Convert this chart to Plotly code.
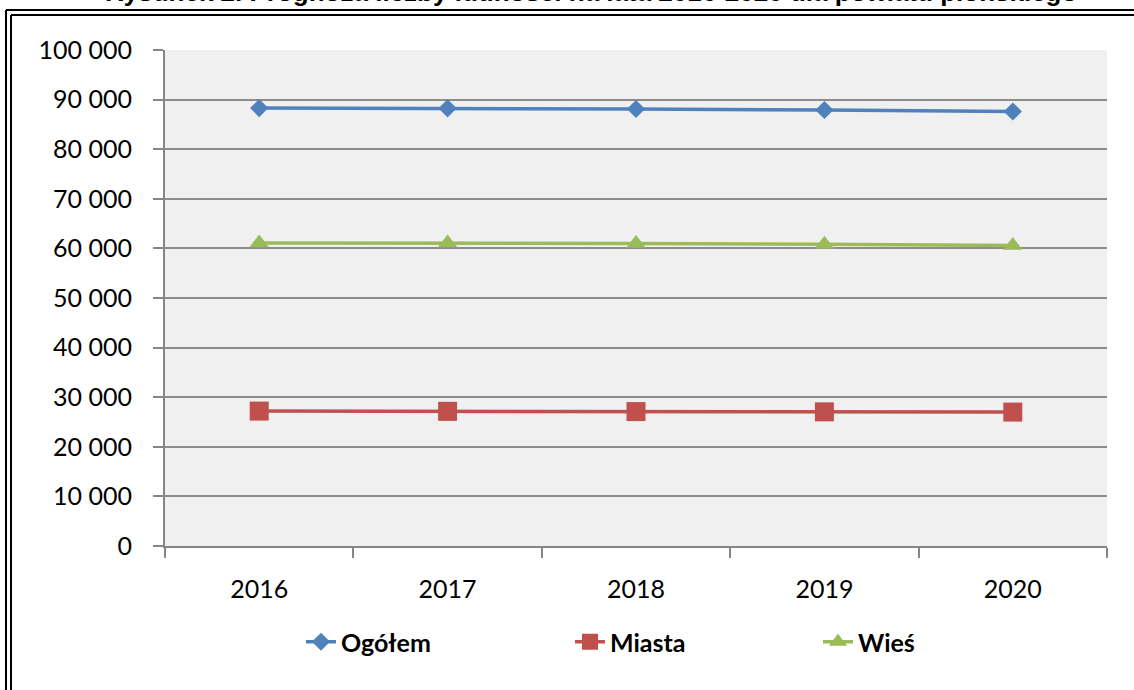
import plotly.graph_objects as go

years = ["2016", "2017", "2018", "2019", "2020"]
ogolem = [88300, 88250, 88100, 87900, 87600]
miasta = [27200, 27150, 27100, 27050, 27000]
wies = [61100, 61100, 61000, 60850, 60600]

series_names = ["Ogółem", "Miasta", "Wieś"]
colors = ["#4F81BD", "#C0504D", "#9BBB59"]
symbols = ["diamond", "square", "triangle-up"]
sizes = [14, 19, 17]

W, H = 1134, 690
ML, MR, MT, MB = 165, 27, 50, 144
PW, PH = W - ML - MR, H - MT - MB


def px_x(px):
    return (px - ML) / PW


def px_y(py):
    return (H - MB - py) / PH


fig = go.Figure()
legend_ids = ["legend", "legend2", "legend3"]
for vals, name, col, sym, sz, lg in zip([ogolem, miasta, wies], series_names, colors, symbols, sizes, legend_ids):
    fig.add_trace(go.Scatter(
        x=years, y=vals, name="<b>" + name + "</b>", mode="lines+markers",
        line=dict(color=col, width=3.5),
        marker=dict(symbol=sym, size=sz, color=col),
        legend=lg, showlegend=True,
    ))

font_family = "Lato, 'Open Sans', sans-serif"
legend_common = dict(orientation="h", yanchor="middle", xanchor="left",
                     font=dict(family=font_family, size=25, color="#000000"),
                     bgcolor="rgba(0,0,0,0)", borderwidth=0, visible=True)

leg_text_starts = [342, 610, 858]
fig.update_layout(
    width=W, height=H,
    margin=dict(l=ML, r=MR, t=MT, b=MB),
    paper_bgcolor="white",
    plot_bgcolor="#F0F0F0",
    separators=", ",
    showlegend=True,
    font=dict(family=font_family, size=25, color="#000000"),
    legend=dict(x=px_x(leg_text_starts[0] - 41), y=px_y(642), **legend_common),
    legend2=dict(x=px_x(leg_text_starts[1] - 40), y=px_y(642), **legend_common),
    legend3=dict(x=px_x(leg_text_starts[2] - 40), y=px_y(642), **legend_common),
    xaxis=dict(
        type="category", range=[-0.5, 4.5], showgrid=False, showline=True, linecolor="#868686", linewidth=2,
        ticks="outside", ticklen=10, tickcolor="#868686", tickwidth=2, tickson="boundaries",
        ticklabelstandoff=20,
        tickfont=dict(family=font_family, size=25, color="#000000"),
    ),
    yaxis=dict(
        range=[0, 100000], dtick=10000, tick0=0, tickformat=",",
        showgrid=True, gridcolor="#8C8C8C", gridwidth=2, zeroline=False,
        showline=True, linecolor="#868686", linewidth=2,
        ticks="outside", ticklen=10, tickcolor="#868686", tickwidth=2,
        ticklabelstandoff=16,
        tickfont=dict(family=font_family, size=25, color="#000000"),
    ),
)

# Title (cropped at top of the page)
fig.add_annotation(
    text="<b>Rysunek 2. Prognoza liczby ludności na lata 2016-2020 dla powiatu płońskiego</b>",
    xref="paper", yref="paper", x=px_x(591), y=px_y(-8), xanchor="center", yanchor="middle",
    showarrow=False, font=dict(family="Liberation Sans, Arial, sans-serif", size=26, color="#000000"),
)

# Double frame
for off in [6, 11]:
    fig.add_shape(type="line", xref="paper", yref="paper",
                  x0=px_x(off), x1=px_x(off), y0=px_y(off + 4), y1=px_y(H + 20),
                  line=dict(color="#000000", width=2))
    fig.add_shape(type="line", xref="paper", yref="paper",
                  x0=px_x(off), x1=px_x(W + 20), y0=px_y(off + 4), y1=px_y(off + 4),
                  line=dict(color="#000000", width=2))

fig.write_html("out.html", config={"displayModeBar": False},
               post_script="document.body.style.margin='0px';")
